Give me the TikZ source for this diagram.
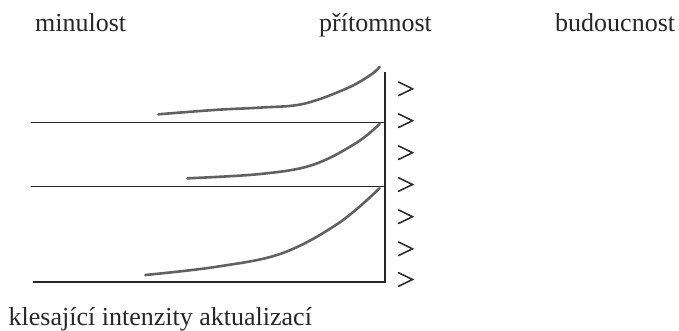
\documentclass[tikz,border=0pt]{standalone}
\usepackage{fontspec}
\setmainfont{Liberation Serif}
\begin{document}
\begin{tikzpicture}[x=1pt,y=-1pt,
  lbl/.style={inner sep=0pt, anchor=base west, font=\fontsize{26}{30}\selectfont, text=black!85},
  axis/.style={line width=1.4pt, draw=black!85},
  chevron/.style={line width=1.6pt, draw=black!82, line cap=round, line join=miter},
  trace/.style={line width=2.6pt, draw=black!62, line cap=round}]
\useasboundingbox (0,0) rectangle (679,331);
% labels
\node[lbl] (past) at (35,31.7) {minulost};
\node[lbl] (present) at (319,31.7) {přítomnost};
\node[lbl] (future) at (555,31.7) {budoucnost};
\node[lbl] (caption) at (8.5,325.5) {klesající intenzity aktualizací};
% axis coordinates
\coordinate (vtop) at (384.8,72.5);
\coordinate (vbot) at (384.8,282);
\coordinate (h1a) at (30.5,122.5);
\coordinate (h1b) at (384.8,122.5);
\coordinate (h2a) at (31,186.5);
\coordinate (h2b) at (384.8,186.5);
\coordinate (h3a) at (32.5,282);
% axes
\draw[axis] (vtop) -- (vbot) -- (h3a);
\draw[axis] (h1a) -- (h1b);
\draw[axis] (h2a) -- (h2b);
% chevrons
\foreach \i/\y in {1/88.8,2/120.7,3/152.7,4/184.5,5/216.7,6/248.8,7/279.5}{
  \coordinate (c\i) at (412.5,\y);
  \draw[chevron] ([xshift=-14pt,yshift=-6.8pt]c\i) -- (c\i) -- ([xshift=-14pt,yshift=6.8pt]c\i);
}
% intensity traces
\draw[trace] plot[smooth, tension=0.6] coordinates
  {(158.4,114.3) (217,109.8) (262,107.5) (303.7,103.8) (347,88.3) (372,74) (379.6,66.7)};
\draw[trace] plot[smooth, tension=0.6] coordinates
  {(187.4,178.3) (260.3,174) (312.4,165) (355.7,143.3) (379.6,124)};
\draw[trace] plot[smooth, tension=0.6] coordinates
  {(145.3,275) (217,266.7) (282,253.3) (338.4,223.3) (379.6,188.3)};
\end{tikzpicture}
\end{document}
